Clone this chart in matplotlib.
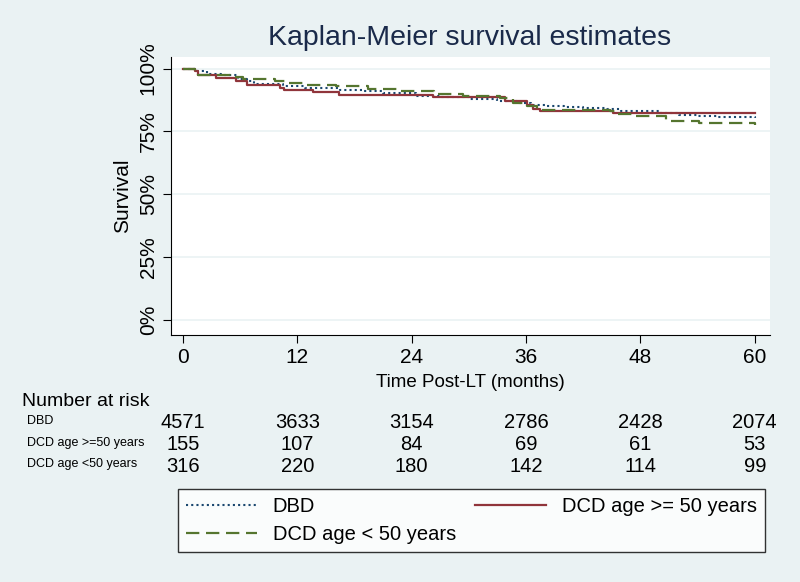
import matplotlib
matplotlib.use("Agg")
import matplotlib.pyplot as plt
from matplotlib.transforms import blended_transform_factory

plt.rcParams['font.family'] = ['Liberation Sans', 'DejaVu Sans']

# survival step curves (months, survival %)
dbd_t = [0, 1.5, 2.5, 4.0, 5.8, 6.7, 7.5, 10.5, 12.8, 16.5, 19.0, 21.0, 24.5, 27.0, 30.0, 33.0, 35.0, 36.5, 38.0, 40.0, 42.0, 44.5, 46.0, 50.0, 52.0, 54.0, 56.0, 58.0, 60]
dbd_s = [100, 98.9, 97.9, 97.3, 96.0, 95.0, 94.0, 93.0, 92.2, 91.6, 90.9, 90.2, 89.0, 88.5, 87.8, 87.0, 86.2, 85.4, 85.0, 84.6, 84.2, 83.8, 83.2, 82.4, 81.7, 81.3, 80.9, 80.6, 80.4]

red_t = [0, 1.3, 1.6, 3.5, 5.6, 6.7, 10.2, 10.6, 13.6, 16.4, 26.2, 33.8, 36.05, 36.7, 37.5, 45.1, 60]
red_s = [100, 98.9, 97.6, 96.3, 95.2, 93.6, 92.3, 91.6, 90.7, 89.6, 88.6, 87.2, 85.6, 84.0, 83.2, 82.3, 82.3]

grn_t = [0, 1.3, 1.6, 4.9, 6.3, 9.65, 11.0, 12.6, 16.1, 19.4, 22.9, 26.3, 29.4, 33.25, 34.65, 36.05, 37.1, 44.8, 45.5, 47.2, 50.7, 54.2, 60]
grn_s = [100, 98.9, 97.6, 96.5, 96.0, 94.9, 94.3, 93.6, 92.9, 92.0, 90.9, 89.9, 88.9, 88.3, 86.3, 85.0, 83.6, 83.0, 81.9, 81.0, 79.3, 78.3, 77.7]

xticks = [0, 12, 24, 36, 48, 60]
yticks = [0, 25, 50, 75, 100]
ytick_labels = ['0%', '25%', '50%', '75%', '100%']

risk_labels = ['DBD', 'DCD age >=50 years', 'DCD age <50 years']
risk_dbd = [4571, 3633, 3154, 2786, 2428, 2074]
risk_old = [155, 107, 84, 69, 61, 53]
risk_young = [316, 220, 180, 142, 114, 99]

bg = '#EAF2F3'
navy = '#1A476F'
maroon = '#90353B'
green = '#55752F'

fig = plt.figure(figsize=(8, 5.82), dpi=100, facecolor=bg)
ax = fig.add_axes([171/800, 1-335/582, (770-171)/800, (335-57)/582])
ax.set_facecolor('white')

l1, = ax.step(dbd_t, dbd_s, where='post', color=navy, lw=1.5, linestyle=(0, (1, 1.5)), label='DBD')
l2, = ax.step(red_t, red_s, where='post', color=maroon, lw=1.6, label='DCD age >= 50 years')
l3, = ax.step(grn_t, grn_s, where='post', color=green, lw=1.6, linestyle=(0, (6, 3)), label='DCD age < 50 years')

ax.set_xlim(-1.26, 61.6)
ax.set_ylim(-6, 104.6)
ax.set_xticks(xticks)
ax.set_yticks(yticks)
ax.set_yticklabels(ytick_labels, rotation=90, va='center')
ax.tick_params(labelsize=15, length=6, color='black', labelcolor='black')
ax.grid(axis='y', color=bg, lw=1.2)
ax.spines['top'].set_visible(False)
ax.spines['right'].set_visible(False)
ax.set_xlabel('Time Post-LT (months)', fontsize=13.5, labelpad=5)
ax.set_ylabel('Survival', fontsize=15, labelpad=5)

fig.text(470/800, 1-38/582, 'Kaplan-Meier survival estimates', ha='center', va='center',
         fontsize=20.5, color='#1A2A4A')

# number at risk table
tr = blended_transform_factory(ax.transData, fig.transFigure)
fig.text(22/800, 1-401/582, 'Number at risk', fontsize=14, va='center')
rows_y = [423, 445, 466]
for lab, vals, yy in zip(risk_labels, [risk_dbd, risk_old, risk_young], rows_y):
    fig.text(27/800, 1-(yy-2)/582, lab, fontsize=9, va='center')
    for xt, v in zip(xticks, vals):
        fig.text(xt, 1-yy/582, str(v), transform=tr, ha='center', va='center', fontsize=14.5)

leg = fig.legend([l1, l3, l2], ['DBD', 'DCD age < 50 years', 'DCD age >= 50 years'],
                 ncol=2, loc='lower left', mode='expand',
                 bbox_to_anchor=(178/800, 1-552/582, (765-178)/800, 64/582),
                 fontsize=14.5, handlelength=3.5, frameon=True, fancybox=False,
                 edgecolor='black', borderaxespad=0, labelspacing=0.45, columnspacing=1)
leg.get_frame().set_linewidth(1.0)

fig.savefig('out.png', dpi=100, facecolor=bg)
